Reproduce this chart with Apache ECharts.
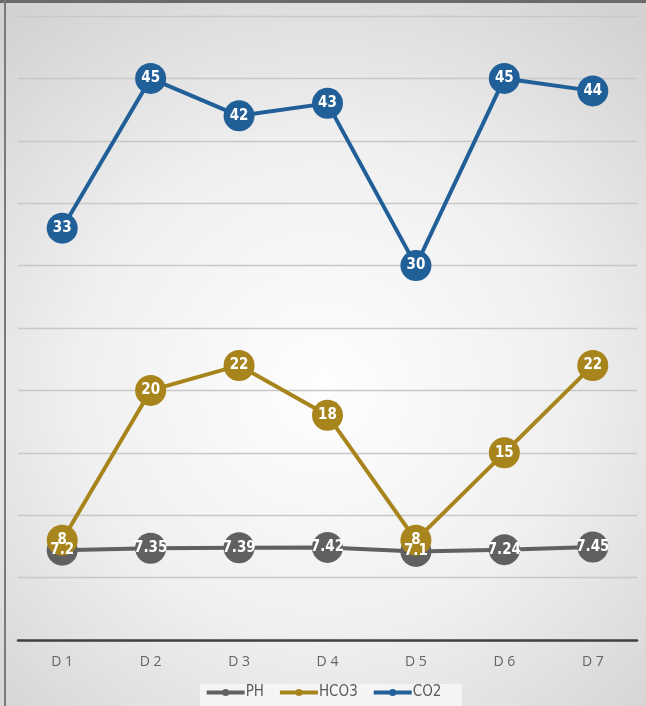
<!DOCTYPE html>
<html>
<head>
<meta charset="utf-8">
<style>
  html, body { margin: 0; padding: 0; background: #ffffff; }
  #chart { width: 646px; height: 706px; }
</style>
<script src="https://cdn.jsdelivr.net/npm/echarts@6/dist/echarts.min.js"></script>
</head>
<body>
<div id="chart"></div>
<script>
// Days of observation
const days = ['D1', 'D2', 'D3', 'D4', 'D5', 'D6', 'D7'];
// Blood gas readings per day
const phValues = [7.2, 7.35, 7.39, 7.42, 7.1, 7.24, 7.45];
const hco3Values = [8, 20, 22, 18, 8, 15, 22];
const co2Values = [33, 45, 42, 43, 30, 45, 44];

const labelFont = '"Liberation Sans Narrow", "DejaVu Sans Condensed", "Roboto Condensed", sans-serif';

function makeSeries(name, data, color) {
  return {
    name: name,
    type: 'line',
    data: data,
    symbol: 'circle',
    symbolSize: 31,
    lineStyle: { color: color, width: 4 },
    itemStyle: { color: color },
    label: {
      show: true,
      position: 'inside',
      color: '#ffffff',
      fontWeight: 'bold',
      fontSize: 15,
      fontFamily: labelFont
    },
    emphasis: { disabled: true },
    animation: false
  };
}

const chart = echarts.init(document.getElementById('chart'), null, { renderer: 'canvas' });
chart.setOption({
  animation: false,
  graphic: [
    {
      type: 'rect', z: -10, silent: true,
      shape: { x: 0, y: 0, width: 646, height: 706 },
      style: {
        fill: {
          type: 'radial', x: 0.5, y: 0.55, r: 0.75,
          colorStops: [
            { offset: 0, color: '#fefefe' },
            { offset: 0.5, color: '#f0f0f0' },
            { offset: 1, color: '#d2d2d2' }
          ]
        }
      }
    },
    {
      type: 'rect', z: -9, silent: true,
      shape: { x: 200, y: 684, width: 262, height: 22 },
      style: { fill: 'rgba(248,248,248,0.8)' }
    },
    {
      type: 'rect', z: 50, silent: true,
      shape: { x: 0, y: 0, width: 646, height: 3 },
      style: { fill: '#6a6a6a' }
    },
    {
      type: 'rect', z: 50, silent: true,
      shape: { x: 4, y: 0, width: 2, height: 706 },
      style: { fill: '#7a7a7a' }
    }
  ],
  grid: { left: 18, right: 9, top: 16, bottom: 66, containLabel: false },
  legend: {
    bottom: 1,
    left: 'center',
    itemWidth: 38,
    itemHeight: 9,
    itemGap: 14,
    data: ['PH', 'HCO3', 'CO2'],
    lineStyle: { width: 4 },
    textStyle: { color: '#595959', fontSize: 15, fontFamily: labelFont, padding: [0, 0, 0, -4] }
  },
  xAxis: {
    type: 'category',
    data: days,
    boundaryGap: true,
    axisLine: { show: true, lineStyle: { color: '#404040', width: 2.5 } },
    axisTick: { show: false },
    axisLabel: {
      color: '#656565',
      fontSize: 14,
      margin: 15,
      fontFamily: '"Open Sans", sans-serif',
      formatter: function (v) { return v.replace(/(\D+)(\d+)/, '$1 $2'); }
    }
  },
  yAxis: {
    type: 'value',
    min: 0,
    max: 50,
    interval: 5,
    axisLine: { show: false },
    axisTick: { show: false },
    axisLabel: { show: false },
    splitLine: { show: true, lineStyle: { color: '#c8c8c8', width: 1.3 } }
  },
  series: [
    makeSeries('PH', phValues, '#606060'),
    makeSeries('HCO3', hco3Values, '#a8841c'),
    makeSeries('CO2', co2Values, '#215f99')
  ]
});
</script>
</body>
</html>
